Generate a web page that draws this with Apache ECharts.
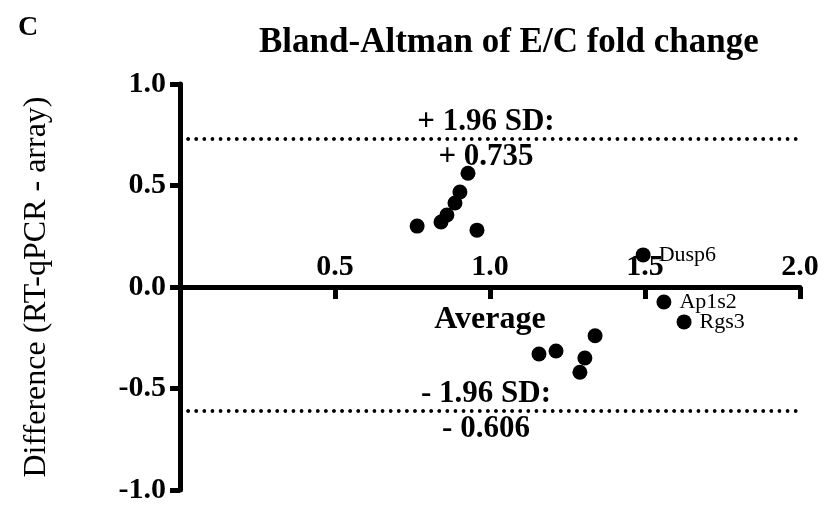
<!DOCTYPE html>
<html>
<head>
<meta charset="utf-8">
<script src="https://cdn.jsdelivr.net/npm/echarts@6/dist/echarts.min.js"></script>
<style>html,body{margin:0;padding:0;background:#fff}#c{width:822px;height:510px}</style>
</head>
<body>
<div id="c"></div>
<script>
// Data
const averages = [0.765, 0.842, 0.861, 0.887, 0.903, 0.929, 0.958, 1.158, 1.213, 1.290, 1.306, 1.339, 1.494, 1.561, 1.626];
const differences = [0.30, 0.32, 0.355, 0.414, 0.468, 0.56, 0.28, -0.33, -0.315, -0.42, -0.35, -0.24, 0.158, -0.074, -0.172];
const geneLabels = ['', '', '', '', '', '', '', '', '', '', '', '', 'Dusp6', 'Ap1s2', 'Rgs3'];
const upperLimit = 0.735;
const lowerLimit = -0.606;
const upperText = ['+ 1.96 SD:', '+ 0.735'];
const lowerText = ['- 1.96 SD:', '- 0.606'];
const xTicks = [0, 0.5, 1.0, 1.5, 2.0];
const yTicks = [-1.0, -0.5, 0.0, 0.5, 1.0];

const FONT = '"Liberation Serif", "Times New Roman", serif';
const GRID = {left: 180, right: 22, top: 84, bottom: 20};
const gridH = 510 - GRID.top - GRID.bottom;
const chart = echarts.init(document.getElementById('c'), null, {renderer: 'canvas'});

const pts = averages.map((a, i) => ({
  value: [a, differences[i]],
  label: {show: !!geneLabels[i], formatter: geneLabels[i]}
}));

const dotted = {color: '#000', width: 3.5, type: [0.1, 8], cap: 'round'};
function limitLines(v, txt) {
  return [
    {yAxis: v, label: {show: true, position: 'insideMiddleTop', formatter: txt[0], distance: 1, offset: [-4, 0]}},
    {yAxis: v, label: {show: true, position: 'insideMiddleBottom', formatter: txt[1], distance: 3, offset: [-4, 0]}}
  ];
}

chart.setOption({
  animation: false,
  backgroundColor: '#fff',
  title: [
    {text: 'C', left: 13, top: 9, textStyle: {fontFamily: FONT, fontWeight: 'bold', fontSize: 28, color: '#000'}},
    {text: 'Bland-Altman of E/C fold change', left: 254, top: 20, textStyle: {fontFamily: FONT, fontWeight: 'bold', fontSize: 35, color: '#000'}}
  ],
  grid: Object.assign({containLabel: false, outerBoundsMode: 'none'}, GRID),
  xAxis: {
    type: 'value', min: 0, max: 2, interval: 0.5,
    offset: -gridH / 2,
    name: 'Average', nameLocation: 'middle', nameGap: 17,
    nameTextStyle: {fontFamily: FONT, fontWeight: 'bold', fontSize: 32, color: '#000', verticalAlign: 'top'},
    axisLine: {onZero: false, lineStyle: {color: '#000', width: 5}},
    axisTick: {show: true, inside: false, length: 12, lineStyle: {color: '#000', width: 5}},
    axisLabel: {inside: true, margin: 5, fontFamily: FONT, fontWeight: 'bold', fontSize: 30, color: '#000',
      formatter: v => v === 0 ? '' : v.toFixed(1)},
    splitLine: {show: false}
  },
  yAxis: {
    type: 'value', min: -1, max: 1, interval: 0.5,
    name: 'Difference (RT-qPCR - array)', nameLocation: 'middle', nameGap: 127, nameRotate: 90,
    nameTextStyle: {fontFamily: FONT, fontSize: 32, color: '#000'},
    axisLine: {show: true, onZero: false, lineStyle: {color: '#000', width: 5}},
    axisTick: {show: true, inside: false, length: 10, lineStyle: {color: '#000', width: 5}},
    axisLabel: {margin: 14, fontFamily: FONT, fontWeight: 'bold', fontSize: 30, color: '#000',
      formatter: v => v.toFixed(1)},
    splitLine: {show: false}
  },
  series: [{
    type: 'scatter',
    data: pts,
    symbol: 'circle', symbolSize: 15,
    itemStyle: {color: '#000', opacity: 1},
    label: {position: 'right', distance: 8, fontFamily: FONT, fontSize: 22, color: '#000'},
    markLine: {
      silent: true, symbol: ['none', 'none'],
      lineStyle: dotted,
      label: {fontFamily: FONT, fontWeight: 'bold', fontSize: 31, color: '#000'},
      data: limitLines(upperLimit, upperText).concat(limitLines(lowerLimit, lowerText))
    }
  }]
});
</script>
</body>
</html>
